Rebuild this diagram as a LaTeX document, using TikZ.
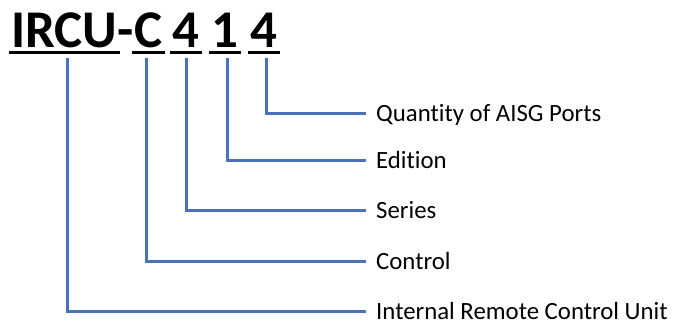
\documentclass[tikz,border=0pt]{standalone}
\usepackage{fontspec}
\setmainfont[Ligatures=NoCommon]{Carlito}
\definecolor{lineblue}{HTML}{4A72B8}
\begin{document}
\begin{tikzpicture}[x=1pt,y=-1pt,
  title/.style={inner sep=0pt,font=\fontsize{53}{60}\selectfont\bfseries,anchor=base},
  uline/.style={line width=3pt,black},
  conn/.style={line width=3pt,lineblue},
  lab/.style={anchor=west,inner xsep=10pt,inner ysep=0pt,text height=16pt,text depth=0pt,font=\fontsize{24.8}{28}\selectfont}]
\useasboundingbox (0,0) rectangle (674,322);
% title parts
\node[title,anchor=base west] (tI) at (11,47) {IRCU};
\node[title,anchor=base west] (tD) at (tI.base east) {-};
\node[title,anchor=base west] (tC) at (tD.base east) {C};
\node[title] (t4a) at (186,47) {4};
\node[title] (t1) at (225,47) {1};
\node[title] (t4b) at (264,47) {4};
% underlines
\foreach \n in {tI,tC,t4a,t1,t4b}{
  \draw[uline] ([xshift=-2pt,yshift=-5pt]\n.base west) -- ([xshift=2pt,yshift=-5pt]\n.base east);
}
% labels
\node[lab] (l1) at (366,113) {Quantity of AISG Ports};
\node[lab] (l2) at (366,160) {Edition};
\node[lab] (l3) at (366,210) {Series};
\node[lab] (l4) at (366,261) {Control};
\node[lab] (l5) at (366,311) {Internal Remote Control Unit};
% connector start points
\coordinate (s5) at (67,58);
\coordinate (s4) at (146,58);
\coordinate (s3) at (186,58);
\coordinate (s2) at (227,58);
\coordinate (s1) at (266,58);
\foreach \i in {1,...,5}{
  \draw[conn] (s\i) |- (l\i.west);
}
\end{tikzpicture}
\end{document}
